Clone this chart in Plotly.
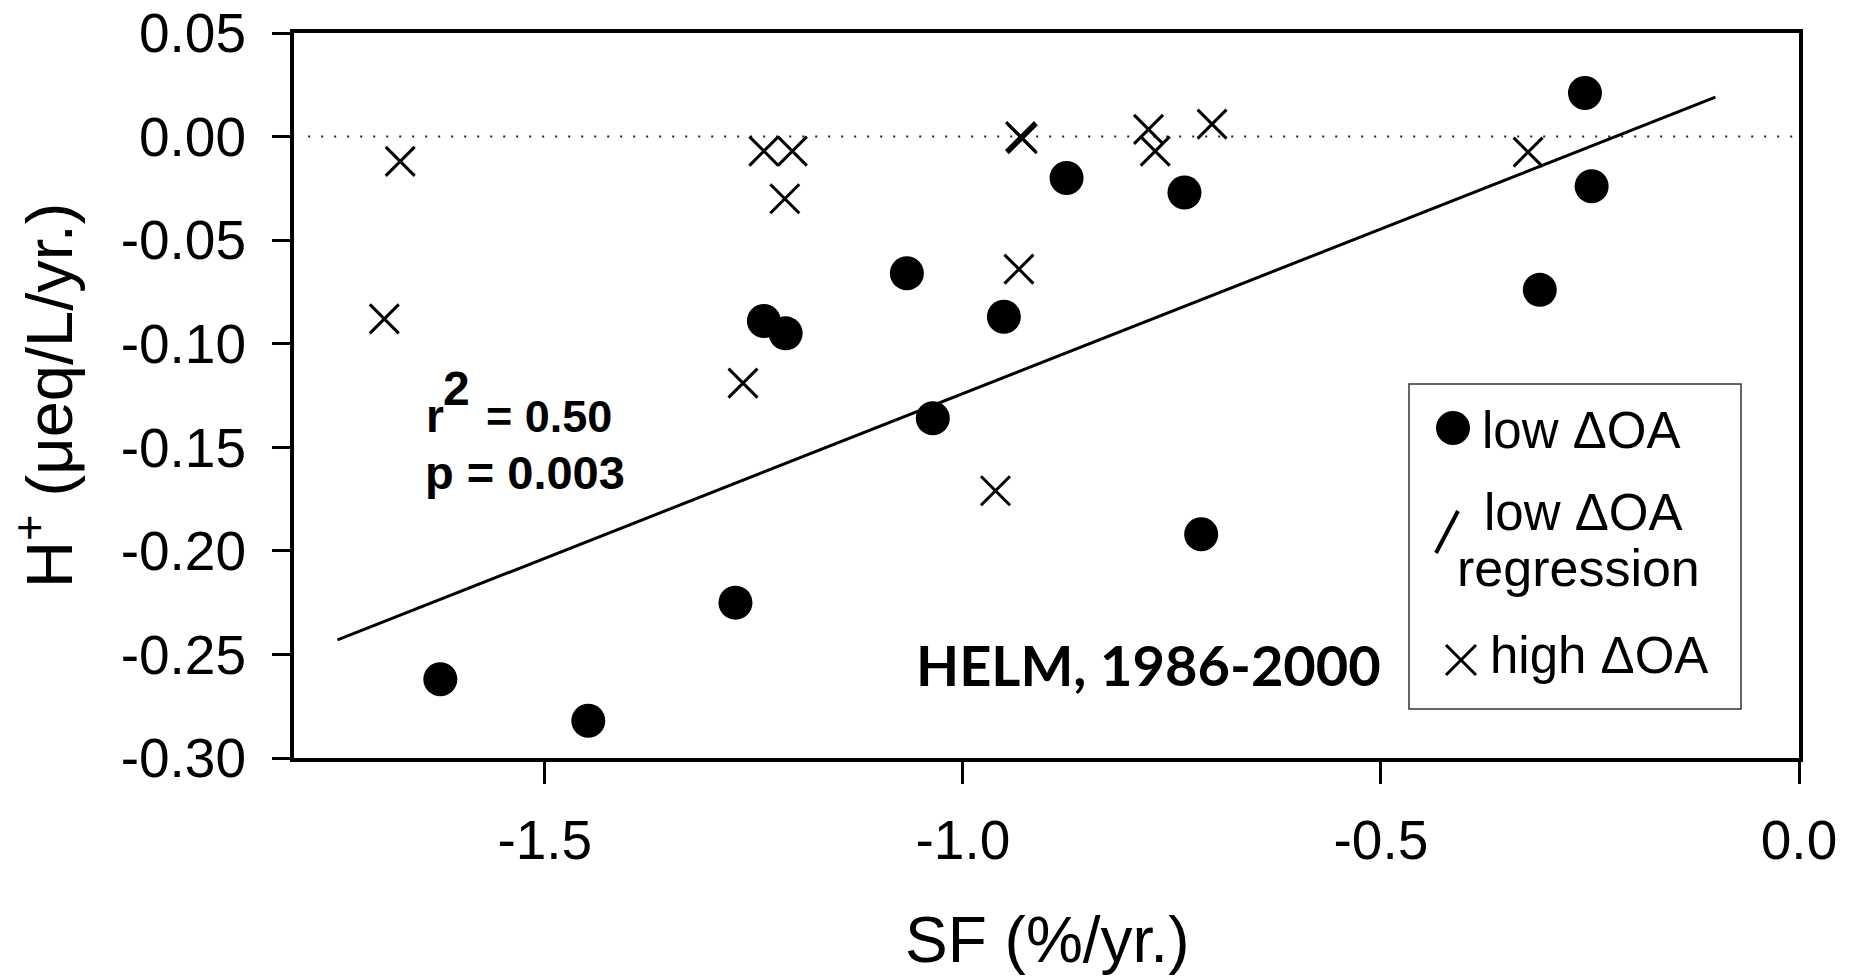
import plotly.graph_objects as go

# ---------------- data ----------------
low_x = [-1.625, -1.448, -1.272, -1.238, -1.212, -1.067, -1.036, -0.951,
         -0.876, -0.735, -0.715, -0.310, -0.256, -0.248]
low_y = [-0.262, -0.282, -0.225, -0.089, -0.095, -0.066, -0.136, -0.087,
         -0.020, -0.027, -0.192, -0.074, 0.021, -0.024]

high_x = [-1.692, -1.673, -1.263, -1.238, -1.204, -1.213, -0.961, -0.933,
          -0.931, -0.929, -0.778, -0.770, -0.702, -0.324]
high_y = [-0.088, -0.012, -0.119, -0.007, -0.007, -0.030, -0.171, -0.064,
          0.000, -0.001, 0.0035, -0.007, 0.006, -0.0075]

reg_x = [-1.748, -0.100]
reg_y = [-0.243, 0.019]

zero_x = [-1.783, 0.0]
zero_y = [0.0, 0.0]

x_tickvals = [-1.5, -1.0, -0.5, 0.0]
x_ticktext = ["-1.5", "-1.0", "-0.5", "0.0"]
y_tickvals = [0.05, 0.0, -0.05, -0.10, -0.15, -0.20, -0.25, -0.30]
y_ticktext = ["0.05", "0.00", "-0.05", "-0.10", "-0.15", "-0.20", "-0.25", "-0.30"]

# ---------------- layout geometry ----------------
W, H = 1852, 978
L, R, T, B = 294, 1799, 33, 758
ARIAL = "Liberation Sans, Arial, sans-serif"


def PX(p):
    return (p - L) / (R - L)


def PY(p):
    return (B - p) / (B - T)


fig = go.Figure()
fig.add_trace(go.Scatter(x=zero_x, y=zero_y, mode="lines",
                         line=dict(color="#222222", width=2, dash="2px,11px"),
                         hoverinfo="skip"))
fig.add_trace(go.Scatter(x=reg_x, y=reg_y, mode="lines",
                         line=dict(color="black", width=3), name="low ΔOA regression"))
fig.add_trace(go.Scatter(x=high_x, y=high_y, mode="markers", name="high ΔOA",
                         marker=dict(symbol="x-thin", size=29,
                                     line=dict(color="black", width=3))))
fig.add_trace(go.Scatter(x=low_x, y=low_y, mode="markers", name="low ΔOA",
                         marker=dict(symbol="circle", size=34, color="black",
                                     line=dict(width=0))))

annotations = []


def ann(text, left, baseline, size, family=ARIAL, desc=0.212, xanchor="left"):
    annotations.append(dict(
        text=text, xref="paper", yref="paper", x=PX(left),
        y=PY(baseline + desc * size), xanchor=xanchor, yanchor="bottom",
        showarrow=False, borderpad=0, borderwidth=0,
        font=dict(family=family, size=size, color="black")))


# statistics text
ann("<b>r</b>", 426, 432, 46)
ann("<b>2</b>", 443, 405, 48)
ann("<b>= 0.50</b>", 486, 432, 45)
ann("<b>p = 0.003</b>", 425, 489, 47)
# site label
ann("<b>HELM, 1986-2000</b>", 916, 686, 56, family="Lato, sans-serif", desc=0.213)

# legend texts
ann("low ΔOA", 1482, 448, 51)
ann("low ΔOA", 1484, 530, 51)
ann("regression", 1457, 586, 52)
ann("high ΔOA", 1490, 673, 51)

# axis titles
annotations.append(dict(
    text="SF (%/yr.)", xref="paper", yref="paper", x=0.5,
    y=PY(962 + 0.212 * 64), xanchor="center", yanchor="bottom",
    showarrow=False, borderpad=0, borderwidth=0,
    font=dict(family=ARIAL, size=64, color="black")))
annotations.append(dict(
    text="H<sup>+</sup> (μeq/L/yr.)", xref="paper", yref="paper",
    x=PX(45), y=PY(395), xanchor="center", yanchor="middle", textangle=-90,
    showarrow=False, borderpad=0, borderwidth=0,
    font=dict(family=ARIAL, size=65, color="black")))

shapes = [
    # legend frame
    dict(type="rect", xref="paper", yref="paper", x0=PX(1409), x1=PX(1741),
         y0=PY(709), y1=PY(384), line=dict(color="#333333", width=1.5),
         fillcolor="rgba(0,0,0,0)"),
    # legend keys
    dict(type="circle", xref="paper", yref="paper", x0=PX(1436), x1=PX(1470),
         y0=PY(445), y1=PY(411), fillcolor="black", line=dict(width=0)),
    dict(type="line", xref="paper", yref="paper", x0=PX(1436), y0=PY(553),
         x1=PX(1458), y1=PY(511), line=dict(color="black", width=4)),
    dict(type="line", xref="paper", yref="paper", x0=PX(1446), y0=PY(645),
         x1=PX(1476), y1=PY(675), line=dict(color="black", width=3)),
    dict(type="line", xref="paper", yref="paper", x0=PX(1446), y0=PY(675),
         x1=PX(1476), y1=PY(645), line=dict(color="black", width=3)),
]

fig.update_layout(
    width=W, height=H,
    margin=dict(l=L, r=W - R, t=T, b=H - B, pad=0, autoexpand=False),
    paper_bgcolor="white", plot_bgcolor="white",
    showlegend=False,
    annotations=annotations, shapes=shapes,
    xaxis=dict(range=[-1.8, 0.0], tickvals=x_tickvals, ticktext=x_ticktext,
               ticks="outside", ticklen=22, tickwidth=3, tickcolor="black",
               showline=True, linewidth=4, linecolor="black", mirror=True,
               showgrid=False, zeroline=False, ticklabelstandoff=9,
               automargin=False,
               tickfont=dict(family=ARIAL, size=55, color="black")),
    yaxis=dict(range=[-0.30, 0.05], tickvals=y_tickvals, ticktext=y_ticktext,
               ticks="outside", ticklen=18, tickwidth=3, tickcolor="black",
               showline=True, linewidth=4, linecolor="black", mirror=True,
               showgrid=False, zeroline=False, ticklabelstandoff=15,
               automargin=False,
               tickfont=dict(family=ARIAL, size=55, color="black")),
)

fig.write_html("out.html")
